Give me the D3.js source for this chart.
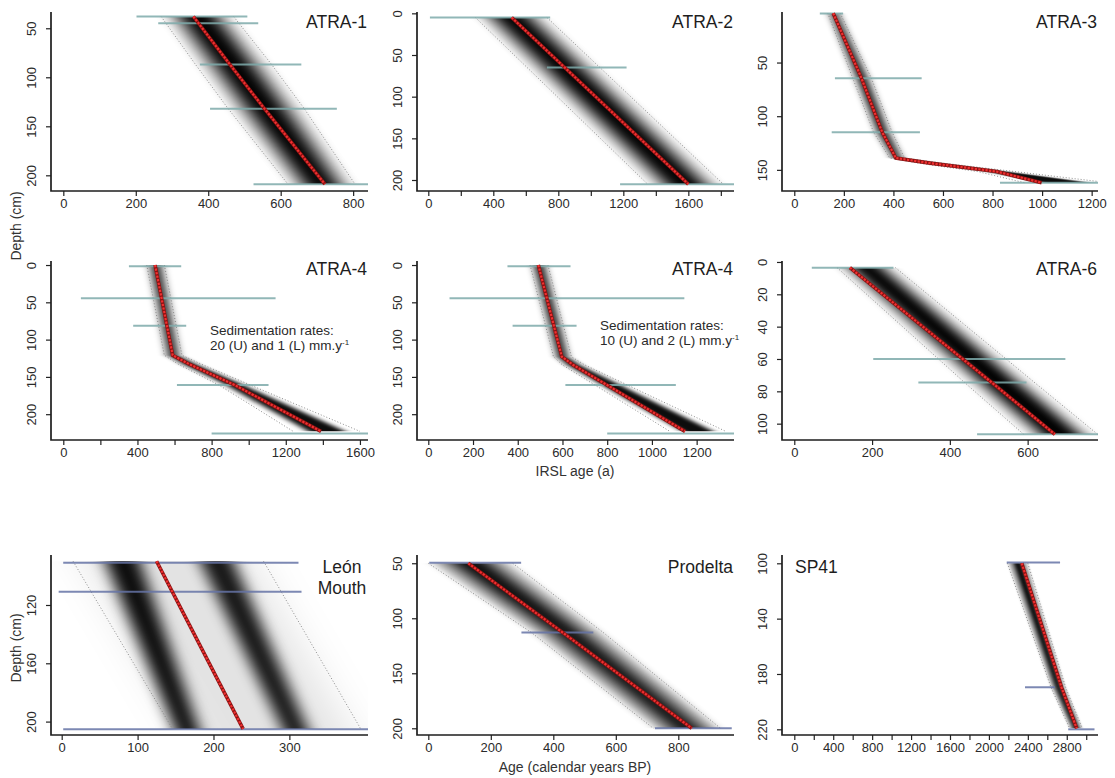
<!DOCTYPE html>
<html lang="en">
<head>
<meta charset="utf-8">
<title>Age-depth models</title>
<script src="https://cdnjs.cloudflare.com/ajax/libs/d3/7.8.5/d3.min.js"></script>
<style>
  body { margin: 0; background: #fff; }
  svg { font-family: "Liberation Sans", Arial, Helvetica, sans-serif; }
  .tick text { fill: #2a2a2a; font-size: 13px; font-family: "Liberation Sans", Arial, Helvetica, sans-serif; }
  .tick line { stroke: #222; stroke-width: 1.2; }
  .title { font-size: 17.5px; fill: #1e1e1e; }
  .note { font-size: 13.5px; fill: #2a2a2a; }
  .axlab { font-size: 14px; fill: #333; }
</style>
</head>
<body>
<svg id="chart" width="1115" height="778"></svg>
<script>
// dates: [depth cm, age, half error]; model: [depth, mean age, lower, upper]

// ATRA-1
const atra1Domain = [[-34, 841], [33.4, 216]];
const atra1XTicks = [0, 200, 400, 600, 800];
const atra1XLabels = [0, 200, 400, 600, 800];
const atra1YTicks = [50, 100, 150, 200];
const atra1Dates = [[38, 355, 153], [45, 400, 138], [87, 517, 140], [132, 580, 175], [209, 690, 165]];
const atra1Model = [[38, 359, 270, 470], [87, 460, 365, 575], [132, 555, 455, 665], [209, 722, 620, 805]];

// ATRA-2
const atra2Domain = [[-69.5, 1881], [-1.6, 213.2]];
const atra2XTicks = [0, 200, 400, 600, 800, 1000, 1200, 1400, 1600, 1800];
const atra2XLabels = [0, 400, 800, 1200, 1600];
const atra2YTicks = [0, 50, 100, 150, 200];
const atra2Dates = [[5, 380, 370], [65, 975, 245], [205, 1580, 400]];
const atra2Model = [[5, 513, 290, 730], [205, 1600, 1350, 1815]];

// ATRA-3
const atra3Domain = [[-49.6, 1225.6], [2.9, 169.7]];
const atra3XTicks = [0, 200, 400, 600, 800, 1000, 1200];
const atra3XLabels = [0, 200, 400, 600, 800, 1000, 1200];
const atra3YTicks = [50, 100, 150];
const atra3Dates = [[4.3, 150, 47], [64.7, 339, 175], [115, 329, 178], [162, 1050, 220]];
const atra3Model = [[4, 157, 135, 185], [64, 270, 235, 310], [115, 355, 320, 395], [139, 410, 385, 445],
                    [143.7, 548, 500, 600], [151.6, 817, 740, 890], [162, 998, 930, 1270]];

// ATRA-4, both sedimentation scenarios
const atra4Domain = [[-66.3, 1643.5], [-5.4, 234.6]];
const atra4bDomain = [[-50.5, 1367], [-5.4, 234.6]];
const atra4XTicks = [0, 200, 400, 600, 800, 1000, 1200, 1400, 1600];
const atra4XLabels = [0, 400, 800, 1200, 1600];
const atra4bXTicks = [0, 200, 400, 600, 800, 1000, 1200];
const atra4YTicks = [0, 50, 100, 150, 200];
const atra4Dates = [[1.5, 495, 141], [44.6, 620, 525], [81.5, 520, 143], [161, 860, 247], [226, 1300, 500]];
const atra4aModel = [[0, 495, 450, 545], [121, 590, 545, 640], [133, 680, 620, 745], [161, 925, 840, 1010], [223, 1390, 1240, 1600]];
const atra4bModel = [[0, 492, 455, 535], [123, 597, 560, 640], [134, 648, 600, 700], [223, 1148, 1080, 1330]];

// ATRA-6
const atra6Domain = [[-31.6, 780.9], [-0.6, 110.1]];
const atra6XTicks = [0, 200, 400, 600];
const atra6YTicks = [0, 20, 40, 60, 80, 100];
const atra6Dates = [[3.5, 150, 105], [60, 450, 247], [74.6, 458, 139], [106.6, 640, 170]];
const atra6Model = [[3.5, 143, 110, 260], [75, 510, 440, 620], [106.6, 670, 590, 780]];

// León Mouth (bimodal)
const leonDomain = [[-14.1, 403.6], [85.7, 209.2]];
const leonXTicks = [0, 100, 200, 300];
const leonYTicks = [120, 160, 200];
const leonDates = [[91, 157, 155], [111, 156, 160], [205.3, 205, 203]];
const leonModel = [[90, 125, 15, 266], [205, 239, 146, 394]];
const leonModeA = [[90, 52, 108], [205, 145, 185]];
const leonModeB = [[90, 177, 231], [205, 287, 328]];

// Prodelta
const prodDomain = [[-36.2, 978.2], [42.5, 206.1]];
const prodXTicks = [0, 200, 400, 600, 800];
const prodYTicks = [50, 100, 150, 200];
const prodDates = [[49.5, 150, 147], [113, 413, 115], [200, 848, 123]];
const prodModel = [[50, 128, 0, 270], [113, 430, 330, 560], [200, 843, 720, 935]];

// SP41
const sp41Domain = [[-126.4, 3121], [94, 224.1]];
const sp41XTicks = [0, 200, 400, 600, 800, 1000, 1200, 1400, 1600, 1800, 2000, 2200, 2400, 2600, 2800, 3000];
const sp41XLabels = [0, 400, 800, 1200, 1600, 2000, 2400, 2800];
const sp41YTicks = [100, 140, 180, 220];
const sp41Dates = [[99.5, 2457, 274], [189.6, 2525, 154], [220, 2950, 135]];
const sp41Model = [[100, 2337, 2190, 2400], [190, 2748, 2640, 2790], [219.3, 2902, 2830, 2960]];

// ---- layout
const colX = [[51, 368], [417, 734], [782, 1098]];
const rowY = [[12, 191], [261, 440], [555, 735]];
const titleDy = [16, 14, 18];
const irslBar = "#7eaaaa", c14Bar = "#6573a6";

const bounds = m => m.map(r => [r[0], r[2], r[3]]);

const panels = [
  {title: ["ATRA-1"], col: 0, row: 0, dom: atra1Domain, xt: atra1XTicks, xl: atra1XLabels, yt: atra1YTicks,
   dates: atra1Dates, model: atra1Model, clouds: [[bounds(atra1Model), 0.9, 0.15, 0.1], [bounds(atra1Model), 0.52, 0.26, 1]], bar: irslBar},
  {title: ["ATRA-2"], col: 1, row: 0, dom: atra2Domain, xt: atra2XTicks, xl: atra2XLabels, yt: atra2YTicks,
   dates: atra2Dates, model: atra2Model, clouds: [[bounds(atra2Model), 0.9, 0.15, 0.1], [bounds(atra2Model), 0.52, 0.26, 1]], bar: irslBar},
  {title: ["ATRA-3"], col: 2, row: 0, dom: atra3Domain, xt: atra3XTicks, xl: atra3XLabels, yt: atra3YTicks,
   dates: atra3Dates, model: atra3Model, clouds: [[bounds(atra3Model), 0.55, 0.3, 0.95]], bar: irslBar},
  {title: ["ATRA-4"], col: 0, row: 1, dom: atra4Domain, xt: atra4XTicks, xl: atra4XLabels, yt: atra4YTicks,
   dates: atra4Dates, model: atra4aModel, clouds: [[bounds(atra4aModel), 0.55, 0.3, 0.95]], bar: irslBar,
   note: ["Sedimentation rates:", "20 (U) and 1 (L) mm.y"], noteAt: [159, 74]},
  {title: ["ATRA-4"], col: 1, row: 1, dom: atra4bDomain, xt: atra4bXTicks, xl: atra4bXTicks, yt: atra4YTicks,
   dates: atra4Dates, model: atra4bModel, clouds: [[bounds(atra4bModel), 0.55, 0.3, 0.95]], bar: irslBar,
   note: ["Sedimentation rates:", "10 (U) and 2 (L) mm.y"], noteAt: [183, 69]},
  {title: ["ATRA-6"], col: 2, row: 1, dom: atra6Domain, xt: atra6XTicks, xl: atra6XTicks, yt: atra6YTicks,
   dates: atra6Dates, model: atra6Model, clouds: [[bounds(atra6Model), 0.9, 0.15, 0.1], [bounds(atra6Model), 0.52, 0.26, 1]], bar: irslBar},
  {title: ["León", "Mouth"], col: 0, row: 2, dom: leonDomain, xt: leonXTicks, xl: leonXTicks, yt: leonYTicks,
   dates: leonDates, model: leonModel,
   clouds: [[bounds(leonModel), 0.85, 0.25, 0.11], [leonModeA, 0.8, 0.45, 0.95], [leonModeB, 0.8, 0.45, 0.9]], bar: c14Bar},
  {title: ["Prodelta"], col: 1, row: 2, dom: prodDomain, xt: prodXTicks, xl: prodXTicks, yt: prodYTicks,
   dates: prodDates, model: prodModel, clouds: [[bounds(prodModel), 0.9, 0.15, 0.2], [bounds(prodModel), 0.48, 0.28, 0.95]], bar: c14Bar},
  {title: ["SP41"], left: true, col: 2, row: 2, dom: sp41Domain, xt: sp41XTicks, xl: sp41XLabels, yt: sp41YTicks,
   dates: sp41Dates, model: sp41Model, clouds: [[bounds(sp41Model), 0.9, 0.2, 0.3], [bounds(sp41Model), 0.4, 0.3, 0.95]], bar: c14Bar}
];

const svg = d3.select("#chart");
const defs = svg.append("defs");

// blurred band between lower/upper ages: gives the grey probability cloud
function drawCloud(parent, rows, x, y, id, core, blur, opacity) {
  const mid = r => (r[1] + r[2]) / 2, half = r => (r[2] - r[1]) / 2;
  const hwPx = d3.mean(rows, r => x(r[2]) - x(r[1])) / 2;
  const f = defs.append("filter").attr("id", id)
    .attr("x", "-80%").attr("width", "260%").attr("y", "-3%").attr("height", "106%");
  f.append("feGaussianBlur").attr("stdDeviation", `${(hwPx * blur).toFixed(2)} 0.7`);
  const area = d3.area()
    .y(r => y(r[0]))
    .x0(r => x(mid(r) - half(r) * core))
    .x1(r => x(mid(r) + half(r) * core));
  parent.append("path")
    .attr("d", area(rows))
    .attr("fill", "#000")
    .attr("fill-opacity", opacity)
    .attr("filter", `url(#${id})`);
}

panels.forEach((p, i) => {
  const [x0, x1] = colX[p.col], [y0, y1] = rowY[p.row];
  const x = d3.scaleLinear().domain(p.dom[0]).range([x0, x1]);
  const y = d3.scaleLinear().domain(p.dom[1]).range([y0, y1]);
  const g = svg.append("g");

  defs.append("clipPath").attr("id", "clip" + i)
    .append("rect").attr("x", x0).attr("y", y0).attr("width", x1 - x0).attr("height", y1 - y0);
  const plot = g.append("g").attr("clip-path", `url(#clip${i})`);

  p.clouds.forEach((c, k) => drawCloud(plot, c[0], x, y, `blur${i}_${k}`, c[1], c[2], c[3]));

  // dotted 95% bounds
  const b = p.model;
  [2, 3].forEach(j => {
    plot.append("path")
      .attr("d", d3.line().x(r => x(r[j])).y(r => y(r[0]))(b))
      .attr("fill", "none").attr("stroke", "#808080").attr("stroke-width", 0.9)
      .attr("stroke-dasharray", "1,2");
  });

  // dated samples
  plot.selectAll("line.date").data(p.dates).join("line")
    .attr("class", "date")
    .attr("x1", d => x(d[1] - d[2])).attr("x2", d => x(d[1] + d[2]))
    .attr("y1", d => y(d[0])).attr("y2", d => y(d[0]))
    .attr("stroke", p.bar).attr("stroke-width", 2).attr("stroke-opacity", 0.85);

  // mean model
  const mean = d3.line().x(r => x(r[1])).y(r => y(r[0]));
  plot.append("path").attr("d", mean(p.model))
    .attr("fill", "none").attr("stroke", "#8a1212").attr("stroke-width", 3.6);
  plot.append("path").attr("d", mean(p.model))
    .attr("fill", "none").attr("stroke", "#f03030").attr("stroke-width", 2.2)
    .attr("stroke-dasharray", "2.2,1.4");

  // axes
  const xAxis = d3.axisBottom(x).tickValues(p.xt).tickSize(5).tickPadding(3)
    .tickFormat(v => p.xl.includes(v) ? v : "");
  g.append("g").attr("transform", `translate(0,${y1})`).call(xAxis)
    .call(a => a.select(".domain").remove());

  const yAxis = d3.axisLeft(y).tickValues(p.yt).tickSize(5);
  g.append("g").attr("transform", `translate(${x0},0)`).call(yAxis)
    .call(a => a.select(".domain").remove())
    .call(a => a.selectAll(".tick text")
      .attr("x", null).attr("dy", null).attr("text-anchor", "middle")
      .attr("transform", "translate(-15,0) rotate(-90)"));

  g.append("path").attr("d", `M${x0},${y0}V${y1}H${x1}`)
    .attr("fill", "none").attr("stroke", "#1e1e1e").attr("stroke-width", 1.7);

  // title
  if (p.left) {
    g.append("text").attr("class", "title").attr("x", x0 + 13).attr("y", y0 + titleDy[p.row]).text(p.title[0]);
  } else if (p.title.length > 1) {
    p.title.forEach((t, k) => g.append("text").attr("class", "title").attr("text-anchor", "middle")
      .attr("x", x1 - 26).attr("y", y0 + 17.5 + k * 21).text(t));
  } else {
    g.append("text").attr("class", "title").attr("text-anchor", "end")
      .attr("x", x1 - 1).attr("y", y0 + titleDy[p.row]).text(p.title[0]);
  }

  if (p.note) {
    const nx = x0 + p.noteAt[0], ny = y0 + p.noteAt[1];
    g.append("text").attr("class", "note").attr("x", nx).attr("y", ny).text(p.note[0]);
    const t2 = g.append("text").attr("class", "note").attr("x", nx).attr("y", ny + 15).text(p.note[1]);
    t2.append("tspan").attr("font-size", 8).attr("dy", -5).text("-1");
  }
});

// shared axis titles
svg.append("text").attr("class", "axlab").attr("text-anchor", "middle")
  .attr("transform", "translate(21,226) rotate(-90)").text("Depth (cm)");
svg.append("text").attr("class", "axlab").attr("text-anchor", "middle")
  .attr("transform", "translate(21,648) rotate(-90)").text("Depth (cm)");
svg.append("text").attr("class", "axlab").attr("text-anchor", "middle")
  .attr("x", 575).attr("y", 476).text("IRSL age (a)");
svg.append("text").attr("class", "axlab").attr("text-anchor", "middle")
  .attr("x", 575).attr("y", 772).text("Age (calendar years BP)");
</script>
</body>
</html>
